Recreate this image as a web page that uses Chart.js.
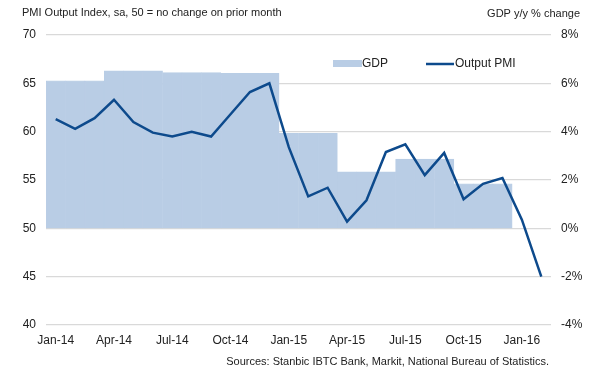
<!DOCTYPE html>
<html>
<head>
<meta charset="utf-8">
<script src="https://cdn.jsdelivr.net/npm/chart.js@4/dist/chart.umd.min.js"></script>
<style>
html,body{margin:0;padding:0;background:#fff;}
#wrap{width:590px;height:376px;position:relative;}
</style>
</head>
<body>
<div id="wrap"><canvas id="c" width="590" height="376"></canvas></div>
<script>
const months = ["Jan-14","Feb-14","Mar-14","Apr-14","May-14","Jun-14","Jul-14","Aug-14","Sep-14","Oct-14","Nov-14","Dec-14",
  "Jan-15","Feb-15","Mar-15","Apr-15","May-15","Jun-15","Jul-15","Aug-15","Sep-15","Oct-15","Nov-15","Dec-15",
  "Jan-16","Feb-16"];
const pmi = [61.3,60.3,61.4,63.3,61.0,59.9,59.5,60.0,59.5,61.8,64.1,65.0,
  58.4,53.3,54.2,50.7,52.9,57.9,58.7,55.5,57.8,53.0,54.6,55.2,
  50.9,45.0];
const gdp = [6.1,6.1,6.1,6.52,6.52,6.52,6.44,6.44,6.44,6.41,6.41,6.41,
  3.93,3.93,3.93,2.34,2.34,2.34,2.87,2.87,2.87,1.84,1.84,1.84,
  null,null];
const leftTicks = [40,45,50,55,60,65,70];
const rightTicks = [-4,-2,0,2,4,6,8];
const leftTitle = "PMI Output Index, sa, 50 = no change on prior month";
const rightTitle = "GDP y/y % change";
const sourceText = "Sources: Stanbic IBTC Bank, Markit, National Bureau of Statistics.";
const legendItems = ["GDP","Output PMI"];

const FONT = "'Liberation Sans', Arial, Helvetica, sans-serif";
const TXT = "#222222";
const BAR = "#b9cde5";
const LINE = "#0d4a8c";

const textPlugin = {
  id: 'texts',
  afterDraw(chart){
    const ctx = chart.ctx;
    ctx.save();
    ctx.fillStyle = TXT;
    ctx.font = "11px " + FONT;
    ctx.textBaseline = 'middle';
    ctx.textAlign = 'left';
    ctx.fillText(leftTitle, 22, 13);
    ctx.textAlign = 'right';
    ctx.fillText(rightTitle, 580, 14);
    ctx.fillText(sourceText, 549, 362);
    // legend
    ctx.font = "12px " + FONT;
    ctx.textAlign = 'left';
    ctx.fillStyle = BAR;
    ctx.fillRect(333, 60, 29, 7);
    ctx.fillStyle = TXT;
    ctx.fillText(legendItems[0], 362, 64);
    ctx.strokeStyle = LINE;
    ctx.lineWidth = 2.5;
    ctx.beginPath();
    ctx.moveTo(426, 64); ctx.lineTo(454, 64);
    ctx.stroke();
    ctx.fillText(legendItems[1], 455, 64);
    ctx.restore();
  }
};

new Chart(document.getElementById('c'), {
  data: {
    labels: months,
    datasets: [
      {
        type: 'line', label: 'Output PMI', data: pmi, yAxisID: 'y',
        borderColor: LINE, borderWidth: 2.5, pointRadius: 0, tension: 0, order: 0
      },
      {
        type: 'bar', label: 'GDP', data: gdp, yAxisID: 'y1',
        backgroundColor: BAR, borderColor: BAR, borderWidth: 0.6,
        barPercentage: 1, categoryPercentage: 1, order: 1
      }
    ]
  },
  options: {
    responsive: false,
    animation: false,
    devicePixelRatio: 1,
    layout: { padding: { top: 35, bottom: 0, left: 0, right: 0 } },
    plugins: { legend: { display: false }, tooltip: { enabled: false } },
    scales: {
      x: {
        offset: true,
        grid: { display: false, drawTicks: false },
        border: { display: false },
        ticks: {
          autoSkip: false, maxRotation: 0, padding: 8,
          color: TXT, font: { family: FONT, size: 12 },
          callback: function(v, i){ return i % 3 === 0 ? months[i] : ''; }
        },
        afterFit(s){ s.height = 51; }
      },
      y: {
        position: 'left', min: 40, max: 70,
        afterBuildTicks(s){ s.ticks = leftTicks.map(v => ({value: v})); },
        grid: { color: '#d9d9d9', lineWidth: 1.2, drawTicks: false },
        border: { display: false },
        ticks: { padding: 10, color: TXT, font: { family: FONT, size: 12 } },
        afterFit(s){ s.width = 46; }
      },
      y1: {
        position: 'right', min: -4, max: 8,
        afterBuildTicks(s){ s.ticks = rightTicks.map(v => ({value: v})); },
        grid: { display: false, drawTicks: false },
        border: { display: false },
        ticks: {
          padding: 10, color: TXT, font: { family: FONT, size: 12 },
          callback: v => v + '%'
        },
        afterFit(s){ s.width = 39; }
      }
    }
  },
  plugins: [textPlugin]
});
</script>
</body>
</html>
